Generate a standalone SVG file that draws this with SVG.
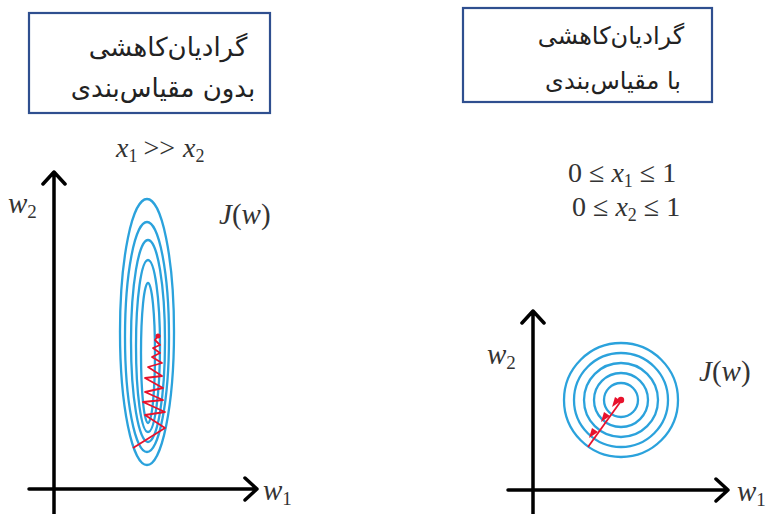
<svg xmlns="http://www.w3.org/2000/svg" width="771" height="514" viewBox="0 0 771 514">
<style>
.box{fill:#fff;stroke:#2f4f8f;stroke-width:2.2}
.fa{font-family:"DejaVu Sans",sans-serif;fill:#222;text-anchor:middle}
.m{font-family:"Liberation Serif",serif;fill:#333}
.i{font-style:italic}
.ax{fill:none;stroke:#000;stroke-width:3.5;stroke-linecap:round;stroke-linejoin:round}
.c{fill:none;stroke:#2ba2dc;stroke-width:2.3}
.r{fill:none;stroke:#e8122c;stroke-width:1.8;stroke-linejoin:round}
</style>
<rect width="771" height="514" fill="#fff"/>
<g id="box-left">
<rect class="box" x="29" y="13" width="241" height="100"/>
<text class="fa" x="168" y="56" font-size="26">گرادیان‌کاهشی</text>
<text class="fa" x="163" y="97" font-size="26">بدون مقیاس‌بندی</text>
</g>
<g id="box-right">
<rect class="box" x="463" y="8" width="249" height="94"/>
<text class="fa" x="611" y="44" font-size="24">گرادیان‌کاهشی</text>
<text class="fa" x="613" y="89" font-size="24">با مقیاس‌بندی</text>
</g>
<g id="cond-left">
<text class="m" x="116" y="157" font-size="28"><tspan class="i">x</tspan><tspan font-size="18" dy="5">1</tspan><tspan dy="-5" dx="6">&gt;&gt;</tspan><tspan class="i" dx="8">x</tspan><tspan font-size="18" dy="5">2</tspan></text>
</g>
<g id="cond-right">
<text class="m" x="568" y="182" font-size="28">0 ≤ <tspan class="i">x</tspan><tspan font-size="18" dy="5">1</tspan><tspan dy="-5"> ≤ 1</tspan></text>
<text class="m" x="572" y="216" font-size="28">0 ≤ <tspan class="i">x</tspan><tspan font-size="18" dy="5">2</tspan><tspan dy="-5"> ≤ 1</tspan></text>
</g>
<g id="plot-left">
<g id="contours-left">
<ellipse class="c" cx="147" cy="332" rx="27" ry="133"/>
<ellipse class="c" cx="147" cy="337" rx="22" ry="115"/>
<ellipse class="c" cx="148" cy="341" rx="17" ry="101"/>
<ellipse class="c" cx="148" cy="346" rx="12" ry="86"/>
<ellipse class="c" cx="148" cy="353" rx="7" ry="70"/>
</g>
<path class="r" d="M133,448 L165,428 L145,415 L165,412 L143,402 L163,400 L145,392 L163,388 L145,378 L162,376 L148,367 L162,363 L152,357 L160,353 L153,348 L160,345 L155,340 L158,336"/>
<circle cx="158" cy="336" r="2.5" fill="#e8122c"/>
<text class="m i" x="219" y="224" font-size="29">J<tspan font-style="normal">(</tspan>w<tspan font-style="normal">)</tspan></text>
<text class="m i" x="8" y="213" font-size="29">w<tspan font-style="normal" font-size="19" dy="5">2</tspan></text>
<text class="m i" x="263" y="500" font-size="29">w<tspan font-style="normal" font-size="19" dy="5">1</tspan></text>
</g>
<g id="plot-right">
<g id="contours-right">
<circle class="c" cx="621" cy="400" r="57"/>
<circle class="c" cx="621" cy="400" r="47"/>
<circle class="c" cx="621" cy="400" r="37"/>
<circle class="c" cx="621" cy="400" r="27"/>
<circle class="c" cx="621" cy="400" r="17"/>
</g>
<path class="r" d="M588,447 L621,401"/>
<g fill="#e8122c">
<polygon points="598,432 589,438 592,428"/>
<polygon points="610,416 601,422 604,412"/>
<polygon points="621,401 612,407 615,397"/>
<circle cx="621" cy="400" r="3.2"/>
</g>
<text class="m i" x="699" y="381" font-size="29">J<tspan font-style="normal">(</tspan>w<tspan font-style="normal">)</tspan></text>
<text class="m i" x="487" y="364" font-size="29">w<tspan font-style="normal" font-size="19" dy="5">2</tspan></text>
<text class="m i" x="737" y="501" font-size="29">w<tspan font-style="normal" font-size="19" dy="5">1</tspan></text>
</g>
<g id="connectors">
<path class="ax" d="M54,514 L54,172 M43,184 L54,172 L65,184"/>
<path class="ax" d="M29,489 L257,489 M245,478 L257,489 L245,500"/>
<path class="ax" d="M533,514 L533,311 M522,323 L533,311 L544,323"/>
<path class="ax" d="M508,490 L728,490 M716,479 L728,490 L716,501"/>
</g>
</svg>
